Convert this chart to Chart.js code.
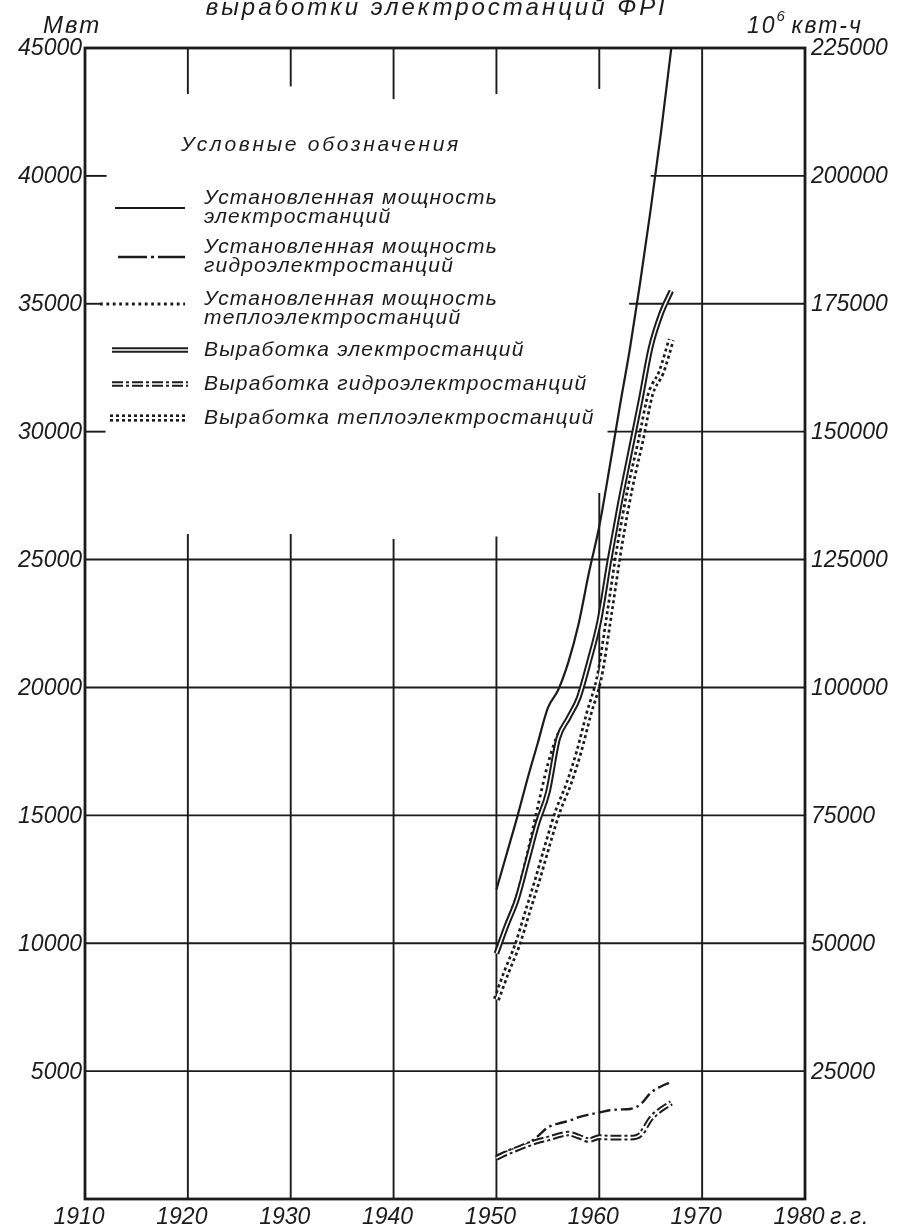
<!DOCTYPE html>
<html lang="ru">
<head>
<meta charset="utf-8">
<title>Выработка электростанций ФРГ</title>
<script src="https://cdn.jsdelivr.net/npm/chart.js@4.4.1/dist/chart.umd.min.js"></script>
<style>
  html, body { margin: 0; padding: 0; background: #fff; }
  #wrap { width: 897px; height: 1229px; }
</style>
</head>
<body>
<div id="wrap"><canvas id="chart" width="897" height="1229"></canvas></div>
<script>
// Data (capacity in Мвт, generation in 10^6 квт-ч)
const years = [1950, 1951, 1952, 1953, 1954, 1955, 1956, 1957, 1958, 1959, 1960, 1961, 1962, 1963, 1964, 1965, 1966, 1967];
const capTotal   = [12100, 13500, 14900, 16400, 17800, 19200, 19900, 21000, 22500, 24500, 26300, 28600, 31000, 33300, 35900, 38700, 41700, 45000];
const capHydro   = [1700, 1850, 2000, 2150, 2450, 2800, 2950, 3050, 3200, 3300, 3380, 3470, 3500, 3520, 3700, 4150, 4400, 4570];
const capThermal = [9700, 10800, 11900, 13500, 15300, 17000, 18200, 18800, 19600, 21000, 22600, 25000, 27200, 29200, 31200, 33300, 34600, 35500];
const genTotal   = [48000, 53500, 58600, 66000, 73500, 79500, 90000, 94000, 98000, 105000, 113000, 125000, 136000, 146000, 156000, 166500, 173000, 177500];
const genHydro   = [8000, 9000, 9800, 10600, 11300, 11800, 12400, 12800, 12200, 11500, 12100, 12000, 12000, 12000, 12600, 15700, 17500, 18800];
const genThermal = [39000, 44500, 49500, 56000, 62500, 69500, 76000, 81000, 87300, 95000, 102000, 114700, 128000, 139000, 148000, 157500, 161500, 168000];

const yearTicks = [1910, 1920, 1930, 1940, 1950, 1960, 1970, 1980];
const mwTicks   = [5000, 10000, 15000, 20000, 25000, 30000, 35000, 40000, 45000];
const kwhTicks  = [25000, 50000, 75000, 100000, 125000, 150000, 175000, 200000, 225000];

const INK = '#1b1b1b';
const FONT = 'Liberation Sans';

// stroke styles, shared by the plotted lines and the legend samples
const STYLE = {
  capTotal:   [{ w: 2.2 }],
  capHydro:   [{ w: 2.4, dash: [12, 4, 2.5, 4] }],
  capThermal: [{ w: 2.8, dash: [2.8, 3.6] }],
  genTotal:   [{ w: 5.6 }, { w: 1.6, c: '#fff' }],
  genHydro:   [{ w: 5.6, dash: [11, 3, 3, 3] }, { w: 1.6, c: '#fff' }],
  genThermal: [{ w: 7.2, dash: [3, 3] }, { w: 1.8, c: '#fff' }]
};

const legendRows = [
  { key: 'capTotal',   lines: ['Установленная мощность', 'электростанций'] },
  { key: 'capHydro',   lines: ['Установленная мощность', 'гидроэлектростанций'] },
  { key: 'capThermal', lines: ['Установленная мощность', 'теплоэлектростанций'] },
  { key: 'genTotal',   lines: ['Выработка электростанций'] },
  { key: 'genHydro',   lines: ['Выработка гидроэлектростанций'] },
  { key: 'genThermal', lines: ['Выработка теплоэлектростанций'] }
];

// where the drafted grid lines are interrupted (around the legend)
const vBreaks = { 1920: [43200, 26000], 1930: [43500, 26000], 1940: [43000, 25800], 1950: [43200, 25900], 1960: [43400, 27600] };
const hBreaks = { 40000: [1912.1, 1965.0], 35000: [1911.5, 1962.9], 30000: [1912.0, 1960.8] };

function points(arr) {
  return years.map((x, i) => ({ x, y: arr[i] }));
}

let order = 20;
function layers(label, arr, axis, key) {
  return STYLE[key].map((s, i) => ({
    label: i === 0 ? label : label + ' (core)',
    data: points(arr),
    yAxisID: axis,
    borderColor: s.c || INK,
    borderWidth: s.w,
    borderDash: s.dash || [],
    borderCapStyle: 'butt',
    pointRadius: 0,
    fill: false,
    cubicInterpolationMode: 'monotone',
    order: order--
  }));
}

const datasets = [
  ...layers('Выработка теплоэлектростанций', genThermal, 'y2', 'genThermal'),
  ...layers('Установленная мощность теплоэлектростанций', capThermal, 'y', 'capThermal'),
  ...layers('Выработка электростанций', genTotal, 'y2', 'genTotal'),
  ...layers('Установленная мощность электростанций', capTotal, 'y', 'capTotal'),
  ...layers('Установленная мощность гидроэлектростанций', capHydro, 'y', 'capHydro'),
  ...layers('Выработка гидроэлектростанций', genHydro, 'y2', 'genHydro')
];

function strokeStyled(ctx, key, x1, x2, y, dashOverride) {
  STYLE[key].forEach((s, i) => {
    ctx.save();
    ctx.strokeStyle = s.c || INK;
    ctx.lineWidth = s.w;
    ctx.setLineDash(i === 0 && dashOverride ? dashOverride : (s.dash || []));
    ctx.beginPath();
    ctx.moveTo(x1, y);
    ctx.lineTo(x2, y);
    ctx.stroke();
    ctx.restore();
  });
}

const drafting = {
  id: 'drafting',
  beforeDatasetsDraw(chart) {
    const { ctx, chartArea: a, scales: { x, y } } = chart;
    const seg = (x1, y1, x2, y2) => { ctx.beginPath(); ctx.moveTo(x1, y1); ctx.lineTo(x2, y2); ctx.stroke(); };
    ctx.save();
    ctx.strokeStyle = INK;
    ctx.lineWidth = 1.9;

    yearTicks.slice(1, -1).forEach(yr => {
      const px = x.getPixelForValue(yr);
      const b = vBreaks[yr];
      if (b) {
        seg(px, a.top, px, y.getPixelForValue(b[0]));
        seg(px, y.getPixelForValue(b[1]), px, a.bottom);
      } else {
        seg(px, a.top, px, a.bottom);
      }
    });

    mwTicks.slice(0, -1).forEach(v => {
      const py = y.getPixelForValue(v);
      const b = hBreaks[v];
      if (b) {
        seg(a.left, py, x.getPixelForValue(b[0]), py);
        seg(x.getPixelForValue(b[1]), py, a.right, py);
      } else {
        seg(a.left, py, a.right, py);
      }
    });

    ctx.lineWidth = 2.8;
    ctx.strokeRect(a.left, a.top, a.right - a.left, a.bottom - a.top);
    ctx.restore();
  },
  afterDraw(chart) {
    const { ctx, chartArea: a } = chart;
    ctx.save();
    ctx.fillStyle = INK;
    ctx.textBaseline = 'alphabetic';

    // title (top line is cut off in the original)
    ctx.font = `italic 24px "${FONT}"`;
    ctx.letterSpacing = '3px';
    ctx.textAlign = 'center';
    ctx.fillText('выработки электростанций ФРГ', 440, 15);

    // axis units
    ctx.letterSpacing = '2px';
    ctx.textAlign = 'left';
    ctx.font = `italic 24px "${FONT}"`;
    ctx.fillText('Мвт', 43, 33);
    ctx.font = `italic 23px "${FONT}"`;
    ctx.fillText('10', 747, 33);
    const w = ctx.measureText('10').width;
    ctx.font = `italic 15px "${FONT}"`;
    ctx.fillText('6', 747 + w, 21);
    ctx.font = `italic 23px "${FONT}"`;
    ctx.fillText('квт-ч', 747 + w + 15, 33);

    // year suffix after 1980
    ctx.letterSpacing = '1px';
    ctx.textBaseline = 'middle';
    ctx.fillText('г.г.', a.right + 25, a.bottom + 19);

    // legend
    ctx.font = `italic 21px "${FONT}"`;
    ctx.letterSpacing = '2.7px';
    ctx.textAlign = 'center';
    ctx.fillText('Условные обозначения', 321, 145);

    const sampleY = [208, 257, 304, 350, 384, 418];
    const sampleX = [[115, 185], [118, 185], [100, 185], [112, 188], [112, 188], [110, 187]];
    const textY = [[198, 217], [247, 266], [299, 318], [350], [384], [418]];
    ctx.letterSpacing = '1.2px';
    ctx.textAlign = 'left';
    legendRows.forEach((row, i) => {
      const dash = row.key === 'capHydro' ? [29, 4, 3, 4] : null;
      strokeStyled(ctx, row.key, sampleX[i][0], sampleX[i][1], sampleY[i], dash);
      row.lines.forEach((t, j) => ctx.fillText(t, 204, textY[i][j]));
    });
    ctx.restore();
  }
};

const tickFont = { family: FONT, size: 23, style: 'italic' };

new Chart(document.getElementById('chart'), {
  type: 'line',
  data: { datasets },
  options: {
    responsive: false,
    animation: false,
    layout: { padding: { top: 48, left: 0, right: 0, bottom: 0 } },
    plugins: { legend: { display: false }, tooltip: { enabled: false } },
    scales: {
      x: {
        type: 'linear', min: 1910, max: 1980,
        grid: { display: false, drawTicks: false },
        border: { display: false },
        afterBuildTicks: s => { s.ticks = yearTicks.map(v => ({ value: v })); },
        afterFit: s => { s.height = 30; },
        ticks: { font: tickFont, color: INK, padding: 5, labelOffset: -6, maxRotation: 0, autoSkip: false, callback: v => String(v) }
      },
      y: {
        position: 'left', min: 0, max: 45000,
        grid: { display: false, drawTicks: false },
        border: { display: false },
        afterBuildTicks: s => { s.ticks = mwTicks.map(v => ({ value: v })); },
        afterFit: s => { s.width = 85; },
        ticks: { font: tickFont, color: INK, padding: 3, labelOffset: 1, callback: v => String(v) }
      },
      y2: {
        position: 'right', min: 0, max: 225000,
        grid: { display: false, drawTicks: false },
        border: { display: false },
        afterBuildTicks: s => { s.ticks = kwhTicks.map(v => ({ value: v })); },
        afterFit: s => { s.width = 92; },
        ticks: { font: tickFont, color: INK, padding: 6, labelOffset: 1, callback: v => String(v) }
      }
    }
  },
  plugins: [drafting]
});
</script>
</body>
</html>
